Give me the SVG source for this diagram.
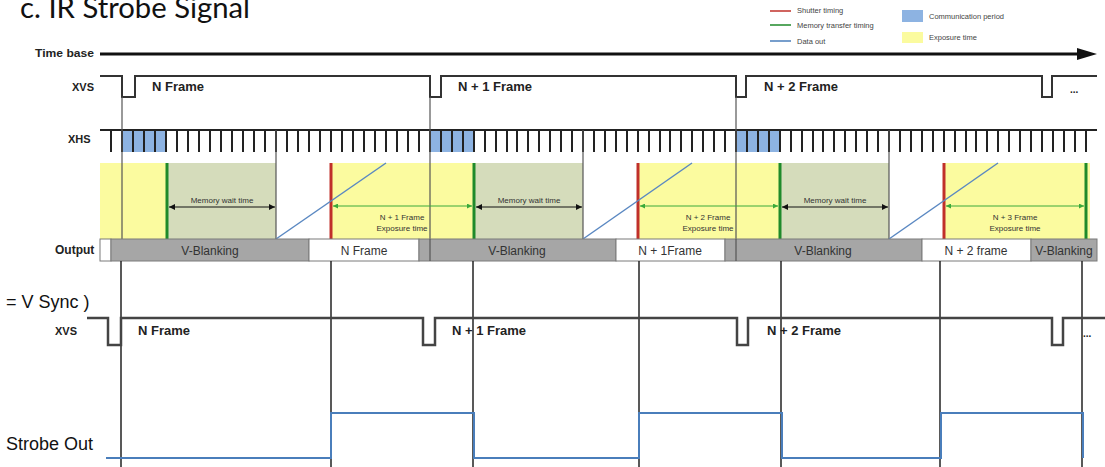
<svg xmlns="http://www.w3.org/2000/svg" width="1105" height="467" viewBox="0 0 1105 467">
<defs>
<style>
.lbl{font-family:"Liberation Sans",Arial,sans-serif;font-weight:bold;fill:#222}
.sm{font-family:"Liberation Sans",Arial,sans-serif;font-size:8px;fill:#333;text-anchor:middle}
.leg{font-family:"Liberation Sans",Arial,sans-serif;font-size:7.5px;fill:#444}
.out{font-family:"Liberation Sans",Arial,sans-serif;font-size:12px;fill:#333;text-anchor:middle}
.big{font-family:"Liberation Sans",Arial,sans-serif;font-size:18px;fill:#111}
.sig{fill:none;stroke:#333;stroke-width:2}
.sig2{fill:none;stroke:#444;stroke-width:2.5}
.vl{stroke:#555;stroke-width:1.2}
.tick{stroke:#222;stroke-width:2;fill:none}
.yel{fill:#fbfb9f}
.mem{fill:#d5dcbb}
.com{fill:#8db3e2}
.red{stroke:#c0302a;stroke-width:3}
.grn{stroke:#1f8a2a;stroke-width:3}
.dat{stroke:#5a88c2;stroke-width:1.5}
.ea{stroke:#3aaa3a;stroke-width:1}
.ma{stroke:#111;stroke-width:1}
.gbox{fill:#a6a6a6;stroke:#7a7a7a;stroke-width:1}
.wbox{fill:#fff;stroke:#7a7a7a;stroke-width:1}
.lv{stroke:#222;stroke-width:1.5}
.strobe{fill:none;stroke:#4a7ebb;stroke-width:2}
</style>
<marker id="mk" viewBox="0 0 6 6" refX="6" refY="3" markerWidth="6" markerHeight="6" markerUnits="userSpaceOnUse" orient="auto-start-reverse"><path d="M0,0 L6,3 L0,6 Z" fill="#111"/></marker>
<marker id="gk" viewBox="0 0 6 6" refX="6" refY="3" markerWidth="5" markerHeight="5" markerUnits="userSpaceOnUse" orient="auto-start-reverse"><path d="M0,0 L6,3 L0,6 Z" fill="#3aaa3a"/></marker>
</defs>
<rect width="1105" height="467" fill="#fff"/>

<g id="title">
<text x="20" y="18" font-family="Lato,'Open Sans',sans-serif" font-size="28" fill="#111" textLength="230" lengthAdjust="spacingAndGlyphs">c. IR Strobe Signal</text>
</g>

<g id="legend">
<line x1="770" y1="11" x2="791" y2="11" stroke="#c0302a" stroke-width="1.5"/>
<line x1="770" y1="25" x2="791" y2="25" stroke="#1f8a2a" stroke-width="1.5"/>
<line x1="770" y1="41" x2="791" y2="41" stroke="#4a7ebb" stroke-width="1.5"/>
<text class="leg" x="797" y="13">Shutter timing</text>
<text class="leg" x="797" y="28">Memory transfer timing</text>
<text class="leg" x="797" y="44">Data out</text>
<rect x="902" y="10" width="21" height="12" fill="#8db3e2"/>
<rect x="902" y="32" width="21" height="11" fill="#fbfb9f"/>
<text class="leg" x="929" y="19">Communication period</text>
<text class="leg" x="929" y="40">Exposure time</text>
</g>

<g id="timebase">
<text class="lbl" x="35" y="57" font-size="11" textLength="59" lengthAdjust="spacingAndGlyphs">Time base</text>
<line x1="100" y1="54" x2="1080" y2="54" stroke="#111" stroke-width="3"/>
<polygon points="1077,48 1097,54 1077,60" fill="#111"/>
</g>

<g id="xvs-top">
<text class="lbl" x="72" y="91" font-size="11">XVS</text>
<path class="sig" d="M100,76 H122 V97 H135 V76 H430 V97 H441 V76 H736 V97 H746 V76 H1042 V97 H1052 V76 H1097"/>
<text class="lbl" x="152" y="91" font-size="13">N Frame</text>
<text class="lbl" x="458" y="91" font-size="13">N + 1 Frame</text>
<text class="lbl" x="764" y="91" font-size="13">N + 2 Frame</text>
<text class="lbl" x="1070" y="93" font-size="10" fill="#555">...</text>
</g>

<g id="exposure">
<rect class="yel" x="100" y="163" width="67" height="76"/>
<rect class="yel" x="331" y="163" width="143" height="76"/>
<rect class="yel" x="638" y="163" width="142" height="76"/>
<rect class="yel" x="944" y="163" width="146" height="76"/>
<rect class="mem" x="167" y="163" width="109" height="76"/>
<rect class="mem" x="474" y="163" width="109" height="76"/>
<rect class="mem" x="780" y="163" width="109" height="76"/>
</g>

<g id="xhs">
<text class="lbl" x="68" y="143" font-size="11">XHS</text>
<rect class="com" x="122" y="131" width="44" height="21"/>
<rect class="com" x="430" y="131" width="44" height="21"/>
<rect class="com" x="736" y="131" width="44" height="21"/>
<line x1="100" y1="130" x2="1097" y2="130" stroke="#222" stroke-width="2"/>
<path class="tick" d="M111,130V152M122,130V152M133,130V152M144,130V152M155,130V152M166,130V152M177,130V152M188,130V152M199,130V152M210,130V152M221,130V152M232,130V152M243,130V152M254,130V152M265,130V152M276,130V152M287,130V152M298,130V152M309,130V152M320,130V152M331,130V152M342,130V152M353,130V152M364,130V152M375,130V152M386,130V152M397,130V152M408,130V152M419,130V152M430,130V152M441,130V152M452,130V152M463,130V152M474,130V152M485,130V152M496,130V152M507,130V152M517,130V152M528,130V152M539,130V152M550,130V152M561,130V152M572,130V152M583,130V152M594,130V152M605,130V152M616,130V152M627,130V152M638,130V152M649,130V152M660,130V152M670,130V152M681,130V152M692,130V152M703,130V152M714,130V152M725,130V152M736,130V152M747,130V152M758,130V152M769,130V152M780,130V152M791,130V152M802,130V152M813,130V152M823,130V152M834,130V152M845,130V152M856,130V152M867,130V152M878,130V152M889,130V152M900,130V152M911,130V152M922,130V152M933,130V152M944,130V152M955,130V152M966,130V152M976,130V152M987,130V152M998,130V152M1009,130V152M1020,130V152M1031,130V152M1042,130V152M1053,130V152M1064,130V152M1075,130V152M1086,130V152"/>
</g>

<g id="connectors">
<line class="vl" x1="122" y1="97" x2="122" y2="239"/>
<line class="vl" x1="430" y1="97" x2="430" y2="239"/>
<line class="vl" x1="736" y1="97" x2="736" y2="239"/>
<line class="vl" x1="276" y1="130" x2="276" y2="239"/>
<line class="vl" x1="583" y1="130" x2="583" y2="239"/>
<line class="vl" x1="889" y1="130" x2="889" y2="239"/>
<line class="grn" x1="167" y1="163" x2="167" y2="239"/>
<line class="grn" x1="474" y1="163" x2="474" y2="239"/>
<line class="grn" x1="780" y1="163" x2="780" y2="239"/>
<line class="grn" x1="1086" y1="163" x2="1086" y2="239"/>
<line class="red" x1="331" y1="163" x2="331" y2="239"/>
<line class="red" x1="638" y1="163" x2="638" y2="239"/>
<line class="red" x1="944" y1="163" x2="944" y2="239"/>
<line class="dat" x1="276" y1="239" x2="386" y2="163"/>
<line class="dat" x1="583" y1="239" x2="692" y2="163"/>
<line class="dat" x1="889" y1="239" x2="998" y2="163"/>
<line class="ma" x1="169" y1="207" x2="275" y2="207" marker-start="url(#mk)" marker-end="url(#mk)"/>
<line class="ma" x1="476" y1="207" x2="582" y2="207" marker-start="url(#mk)" marker-end="url(#mk)"/>
<line class="ma" x1="782" y1="207" x2="888" y2="207" marker-start="url(#mk)" marker-end="url(#mk)"/>
<line class="ea" x1="333" y1="206" x2="472" y2="206" marker-start="url(#gk)" marker-end="url(#gk)"/>
<line class="ea" x1="640" y1="206" x2="778" y2="206" marker-start="url(#gk)" marker-end="url(#gk)"/>
<line class="ea" x1="946" y1="206" x2="1084" y2="206" marker-start="url(#gk)" marker-end="url(#gk)"/>
<text class="sm" x="222" y="203">Memory wait time</text>
<text class="sm" x="529" y="203">Memory wait time</text>
<text class="sm" x="835" y="203">Memory wait time</text>
<text class="sm" x="402" y="220">N + 1 Frame</text>
<text class="sm" x="402" y="231">Exposure time</text>
<text class="sm" x="708" y="220">N + 2 Frame</text>
<text class="sm" x="708" y="231">Exposure time</text>
<text class="sm" x="1015" y="220">N + 3 Frame</text>
<text class="sm" x="1015" y="231">Exposure time</text>
</g>

<g id="output">
<text class="lbl" x="55" y="254" font-size="12">Output</text>
<rect class="wbox" x="100" y="239" width="11" height="22"/>
<rect class="gbox" x="111" y="239" width="198" height="22"/>
<rect class="wbox" x="309" y="239" width="110" height="22"/>
<rect class="gbox" x="419" y="239" width="197" height="22"/>
<rect class="wbox" x="616" y="239" width="109" height="22"/>
<rect class="gbox" x="725" y="239" width="197" height="22"/>
<rect class="wbox" x="922" y="239" width="109" height="22"/>
<rect class="gbox" x="1031" y="239" width="66" height="22"/>
<line class="vl" x1="430" y1="239" x2="430" y2="261"/>
<line class="vl" x1="736" y1="239" x2="736" y2="261"/>
<text class="out" x="210" y="255">V-Blanking</text>
<text class="out" x="364" y="255">N Frame</text>
<text class="out" x="517" y="255">V-Blanking</text>
<text class="out" x="670" y="255">N + 1Frame</text>
<text class="out" x="823" y="255">V-Blanking</text>
<text class="out" x="976" y="255">N + 2 frame</text>
<text class="out" x="1064" y="255">V-Blanking</text>
</g>

<g id="lower-lines">
<line class="lv" x1="121" y1="261" x2="121" y2="467"/>
<line class="lv" x1="331" y1="261" x2="331" y2="467"/>
<line class="lv" x1="473" y1="261" x2="473" y2="467"/>
<line class="lv" x1="639" y1="261" x2="639" y2="467"/>
<line class="lv" x1="781" y1="261" x2="781" y2="467"/>
<line class="lv" x1="940" y1="261" x2="940" y2="467"/>
<line class="lv" x1="1082" y1="261" x2="1082" y2="467"/>
</g>

<g id="xvs-bottom">
<text class="big" x="6" y="308">= V Sync )</text>
<text class="lbl" x="55" y="335" font-size="11" fill="#444">XVS</text>
<path class="sig2" d="M87,318 H108 V345 H121 V318 H423 V345 H435 V318 H737 V345 H748 V318 H1052 V345 H1063 V318 H1105"/>
<text class="lbl" x="138" y="335" font-size="13" fill="#333">N Frame</text>
<text class="lbl" x="452" y="335" font-size="13" fill="#333">N + 1 Frame</text>
<text class="lbl" x="767" y="335" font-size="13" fill="#333">N + 2 Frame</text>
<text class="lbl" x="1083" y="337" font-size="10" fill="#666">...</text>
</g>

<g id="strobe">
<text class="big" x="6" y="450">Strobe Out</text>
<path class="strobe" d="M106,458 H331 V413 H474 V458 H639 V413 H782 V458 H941 V413 H1083 V458"/>
</g>
</svg>
